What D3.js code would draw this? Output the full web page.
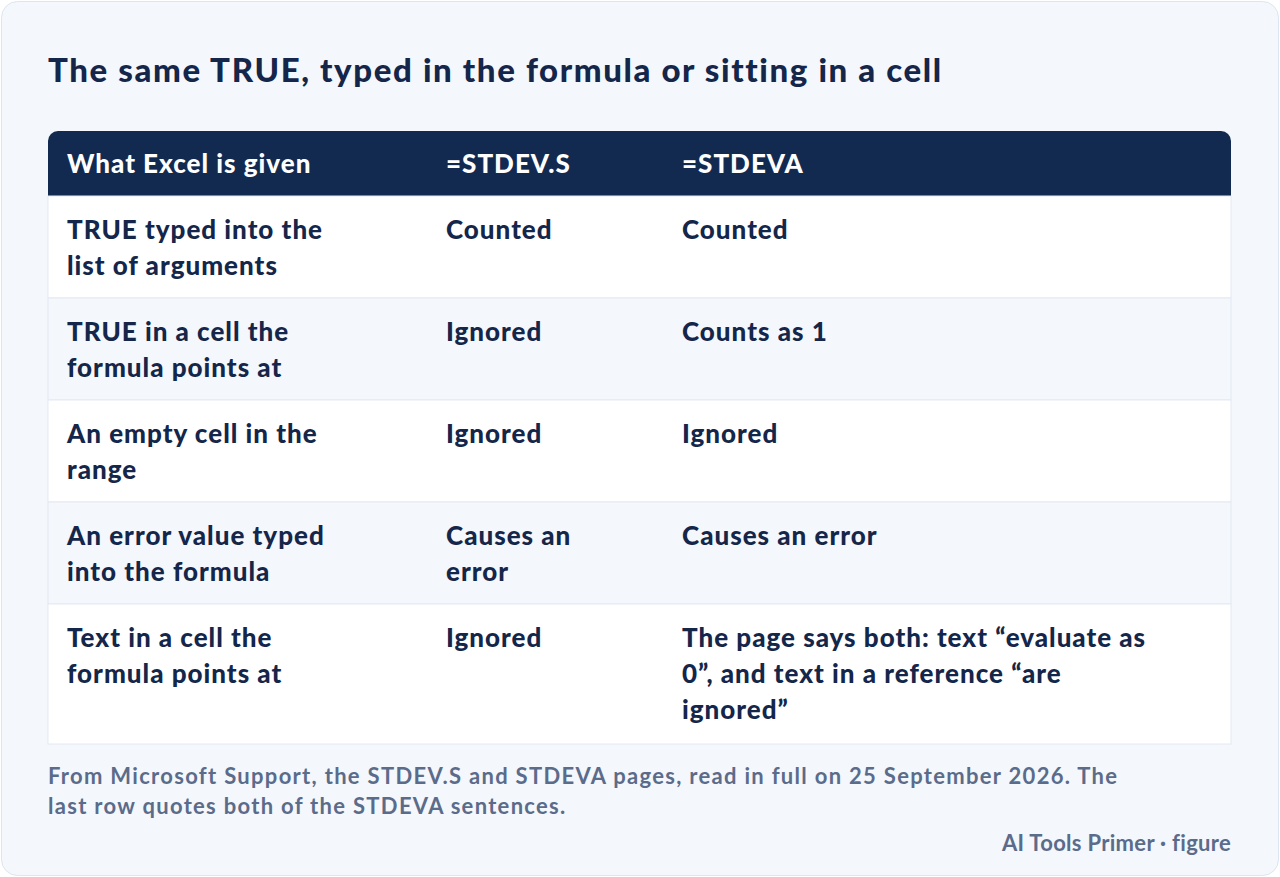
<!DOCTYPE html><html><head><meta charset="utf-8"><script src="https://cdn.jsdelivr.net/npm/d3@7"></script>
<style>body{margin:0;background:#fff;font-family:Lato,"Noto Sans",sans-serif}</style></head><body><svg id="c" width="1280" height="877"></svg><script>
const title="The same TRUE, typed in the formula or sitting in a cell";
const headers=["What Excel is given","=STDEV.S","=STDEVA"];
const col1=[["TRUE typed into the","list of arguments"],["TRUE in a cell the","formula points at"],["An empty cell in the","range"],["An error value typed","into the formula"],["Text in a cell the","formula points at"]];
const col2=[["Counted"],["Ignored"],["Ignored"],["Causes an","error"],["Ignored"]];
const col3=[["Counted"],["Counts as 1"],["Ignored"],["Causes an error"],["The page says both: text “evaluate as","0”, and text in a reference “are","ignored”"]];
const note=["From Microsoft Support, the STDEV.S and STDEVA pages, read in full on 25 September 2026. The","last row quotes both of the STDEVA sentences."];
const credit="AI Tools Primer · figure";
const rowH=[102,102,102,102,140];
const svg=d3.select("#c");
svg.append("rect").attr("x",1.5).attr("y",1.5).attr("width",1277).attr("height",874).attr("rx",16).attr("fill","#f4f7fb").attr("stroke","#dde5f0");
svg.append("text").attr("x",48).attr("y",82).text(title).attr("font-size",33).attr("letter-spacing",1.6).attr("font-weight",900).attr("fill","#14264a");
const X=48,W=1183,colX=[67,446,682];
svg.append("path").attr("d",`M${X},196 V141 a10,10 0 0 1 10,-10 H${X+W-10} a10,10 0 0 1 10,10 V196 Z`).attr("fill","#132a50");
headers.forEach((h,i)=>svg.append("text").attr("x",colX[i]).attr("y",173).text(h).attr("font-size",26).attr("letter-spacing",1).attr("font-weight",900).attr("fill","#fff"));
let y=196;
col1.forEach((c,r)=>{
 svg.append("rect").attr("x",X).attr("y",y).attr("width",W).attr("height",rowH[r]).attr("fill",r%2?"#f4f7fb":"#fff").attr("stroke","#e3e9f2");
 [c,col2[r],col3[r]].forEach((lines,i)=>lines.forEach((l,k)=>svg.append("text").attr("x",colX[i]).attr("y",y+43+k*36).text(l).attr("font-size",26).attr("letter-spacing",1).attr("font-weight",900).attr("fill","#14264a")));
 y+=rowH[r];
});
note.forEach((l,k)=>svg.append("text").attr("x",48).attr("y",784+k*30).text(l).attr("font-size",22).attr("letter-spacing",1.3).attr("font-weight",700).attr("fill","#5b6b8a"));
svg.append("text").attr("x",1231).attr("y",851).attr("text-anchor","end").text(credit).attr("font-size",22).attr("letter-spacing",0.3).attr("font-weight",700).attr("fill","#5b6b8a");
</script></body></html>
